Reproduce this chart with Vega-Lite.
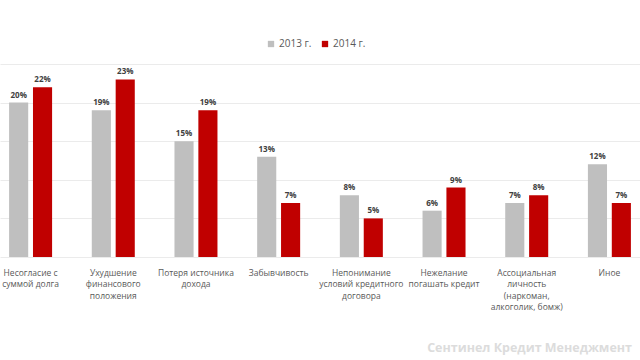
{
  "$schema": "https://vega.github.io/schema/vega-lite/v6.json",
  "width": 640,
  "height": 193,
  "autosize": {"type": "none"},
  "padding": {"top": 64, "left": 0, "right": 0, "bottom": 103},
  "background": "white",
  "config": {"view": {"stroke": null}, "font": "Open Sans"},
  "title": {
    "text": "Сентинел Кредит Менеджмент",
    "orient": "bottom",
    "anchor": "end",
    "color": "#dcdcdc",
    "fontSize": 12.5,
    "fontWeight": "bold",
    "font": "Open Sans",
    "offset": 31,
    "dx": -8
  },
  "data": {
    "values": [
      {"cause": "Несогласие с|суммой долга", "year": "2013 г.", "value": 0.20},
      {"cause": "Несогласие с|суммой долга", "year": "2014 г.", "value": 0.22},
      {"cause": "Ухудшение|финансового|положения", "year": "2013 г.", "value": 0.19},
      {"cause": "Ухудшение|финансового|положения", "year": "2014 г.", "value": 0.23},
      {"cause": "Потеря источника|дохода", "year": "2013 г.", "value": 0.15},
      {"cause": "Потеря источника|дохода", "year": "2014 г.", "value": 0.19},
      {"cause": "Забывчивость", "year": "2013 г.", "value": 0.13},
      {"cause": "Забывчивость", "year": "2014 г.", "value": 0.07},
      {"cause": "Непонимание|условий кредитного|договора", "year": "2013 г.", "value": 0.08},
      {"cause": "Непонимание|условий кредитного|договора", "year": "2014 г.", "value": 0.05},
      {"cause": "Нежелание|погашать кредит", "year": "2013 г.", "value": 0.06},
      {"cause": "Нежелание|погашать кредит", "year": "2014 г.", "value": 0.09},
      {"cause": "Ассоциальная|личность|(наркоман,|алкоголик, бомж)", "year": "2013 г.", "value": 0.07},
      {"cause": "Ассоциальная|личность|(наркоман,|алкоголик, бомж)", "year": "2014 г.", "value": 0.08},
      {"cause": "Иное", "year": "2013 г.", "value": 0.12},
      {"cause": "Иное", "year": "2014 г.", "value": 0.07}
    ]
  },
  "encoding": {
    "x": {
      "field": "cause",
      "type": "nominal",
      "sort": null,
      "scale": {"paddingInner": 0.48, "paddingOuter": 0.11},
      "axis": {
        "title": null,
        "labelAngle": 0,
        "labelExpr": "split(datum.label, '|')",
        "domain": false,
        "ticks": false,
        "labelFontSize": 8.5,
        "labelColor": "#595959",
        "labelPadding": 11,
        "labelLineHeight": 11.5,
        "labelBaseline": "top"
      }
    },
    "xOffset": {"field": "year", "type": "nominal", "scale": {"paddingInner": 0.2}},
    "y": {
      "field": "value",
      "type": "quantitative",
      "scale": {"domain": [0, 0.25]},
      "axis": {
        "title": null,
        "labels": false,
        "ticks": false,
        "domain": false,
        "values": [0, 0.05, 0.1, 0.15, 0.2, 0.25],
        "gridColor": "#ebebeb"
      }
    }
  },
  "layer": [
    {
      "mark": {"type": "bar"},
      "encoding": {
        "color": {
          "field": "year",
          "type": "nominal",
          "scale": {"domain": ["2013 г.", "2014 г."], "range": ["#bfbfbf", "#c00000"]},
          "legend": {
            "title": null,
            "orient": "none",
            "legendX": 266,
            "legendY": -25,
            "direction": "horizontal",
            "symbolType": "square",
            "symbolSize": 40,
            "symbolStrokeWidth": 0,
            "labelFontSize": 10,
            "labelColor": "#595959",
            "columnPadding": 8,
            "labelOffset": 3
          }
        }
      }
    },
    {
      "mark": {"type": "text", "dy": -7, "fontSize": 8, "fontWeight": "bold", "color": "#404040"},
      "encoding": {
        "text": {"field": "value", "type": "quantitative", "format": ".0%"}
      }
    }
  ]
}
